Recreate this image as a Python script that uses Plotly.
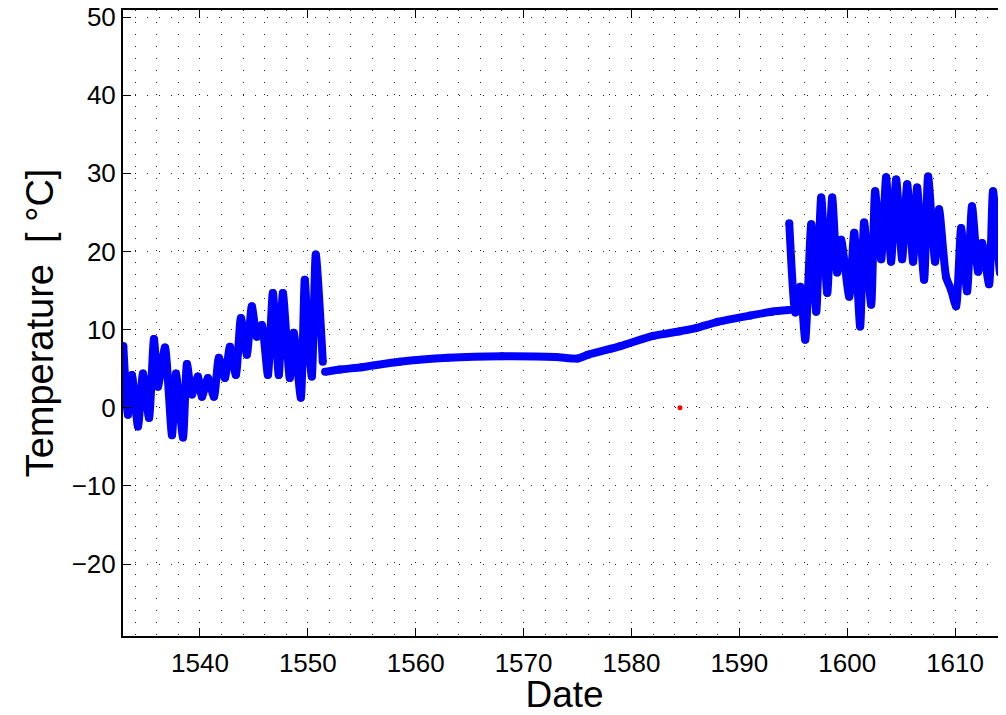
import plotly.graph_objects as go

# Date (year) and temperature
early_date = [1532.9, 1533.33, 1533.70, 1534.26, 1534.72, 1535.28, 1535.74, 1536.11,
              1536.76, 1537.41, 1537.78, 1538.43, 1538.80, 1539.26, 1539.81, 1540.19,
              1540.74, 1541.30, 1541.76, 1542.31, 1542.78, 1543.33, 1543.80, 1544.35,
              1544.81, 1545.28, 1545.74, 1546.30, 1546.76, 1547.31, 1547.69, 1548.33,
              1548.70, 1549.35, 1549.72, 1550.00, 1550.37, 1550.74, 1551.39]
early_temp = [7.9, -0.9, 4.2, -2.4, 4.4, -1.3, 8.8, 2.7,
              7.7, -3.5, 4.4, -3.8, 5.6, 1.7, 4.0, 1.4,
              3.8, 1.4, 6.4, 3.8, 7.8, 4.2, 11.5, 6.8,
              13.0, 9.1, 10.6, 4.2, 14.7, 4.2, 14.7, 3.8,
              9.6, 1.3, 16.4, 9.5, 4.0, 19.6, 5.9]

flat_date = [1551.6, 1553.0, 1555.0, 1558.5, 1563.0, 1568.0, 1573.0, 1575.0,
             1576.0, 1579.0, 1582.0, 1584.5, 1586.0, 1588.0, 1591.0, 1593.0, 1594.6]
flat_temp = [4.6, 4.9, 5.2, 5.9, 6.4, 6.6, 6.5, 6.3,
             6.8, 7.9, 9.2, 9.8, 10.2, 11.0, 11.8, 12.3, 12.5]

late_date = [1594.63, 1595.19, 1595.65, 1596.11, 1596.67, 1597.13, 1597.59, 1598.15,
             1598.61, 1599.07, 1599.44, 1600.19, 1600.65, 1601.20, 1601.57, 1602.22,
             1602.59, 1603.15, 1603.61, 1604.07, 1604.54, 1605.09, 1605.56, 1606.11,
             1606.48, 1607.13, 1607.50, 1608.15, 1608.52, 1609.17, 1609.63, 1610.09,
             1610.56, 1611.11, 1611.57, 1612.13, 1612.50, 1613.15, 1613.52, 1614.17,
             1614.44, 1615.0]
late_temp = [23.6, 12.2, 15.5, 8.7, 23.5, 12.3, 26.9, 14.7,
             26.9, 17.3, 21.5, 14.2, 22.4, 10.4, 23.7, 13.2,
             27.7, 19.0, 29.5, 18.7, 29.2, 19.0, 28.6, 18.7,
             28.2, 16.4, 29.6, 18.7, 25.4, 16.7, 15.1, 13.0,
             23.0, 14.9, 25.8, 17.4, 21.1, 15.8, 27.7, 17.3,
             24.4, 20.0]

red_date = [1584.5]
red_temp = [0.0]

x_ticks = [1540, 1550, 1560, 1570, 1580, 1590, 1600, 1610]
y_ticks = [-20, -10, 0, 10, 20, 30, 40, 50]

fig = go.Figure()

for xs, ys in [(early_date, early_temp), (flat_date, flat_temp), (late_date, late_temp)]:
    fig.add_trace(go.Scatter(
        x=xs, y=ys,
        mode='lines+markers',
        line=dict(color='#0000ff', width=8, shape='spline', smoothing=0.6),
        marker=dict(color='#0000ff', size=8),
        showlegend=False
    ))

fig.add_trace(go.Scatter(
    x=red_date, y=red_temp,
    mode='markers',
    marker=dict(color='#ff0000', size=5),
    showlegend=False
))

dot = '1px,11px'

# the page body adds an 8px margin, so the figure is sized to end at the window edge
fig.update_layout(
    width=998,
    height=707,
    margin=dict(l=115, r=0, t=2, b=79),
    paper_bgcolor='white',
    plot_bgcolor='white',
    font=dict(family='Liberation Sans, Arial, sans-serif', color='black', size=26),
    xaxis=dict(
        range=[1532.87, 1614.72],
        tickvals=x_ticks,
        ticks='inside', ticklen=8, tickcolor='black', tickwidth=1,
        showline=True, linecolor='black', linewidth=2, mirror='ticks',
        showgrid=True, gridcolor='#222222', gridwidth=1, griddash=dot,
        minor=dict(dtick=2, showgrid=True, gridcolor='#222222', gridwidth=1, griddash=dot),
        zeroline=False,
        automargin=False,
        ticklabelstandoff=3,
        ticklabeloverflow='allow',
        title=dict(text='Date', font=dict(size=37), standoff=4),
    ),
    yaxis=dict(
        range=[-29.2, 50.9],
        tickvals=y_ticks,
        ticks='inside', ticklen=8, tickcolor='black', tickwidth=1,
        showline=True, linecolor='black', linewidth=2,
        showgrid=True, gridcolor='#222222', gridwidth=1, griddash=dot,
        zeroline=False,
        automargin=False,
        ticklabelstandoff=0,
        ticklabeloverflow='allow',
        title=dict(text='Temperature  [ °C]', font=dict(size=38), standoff=6),
    ),
)

fig.write_html("out.html")
